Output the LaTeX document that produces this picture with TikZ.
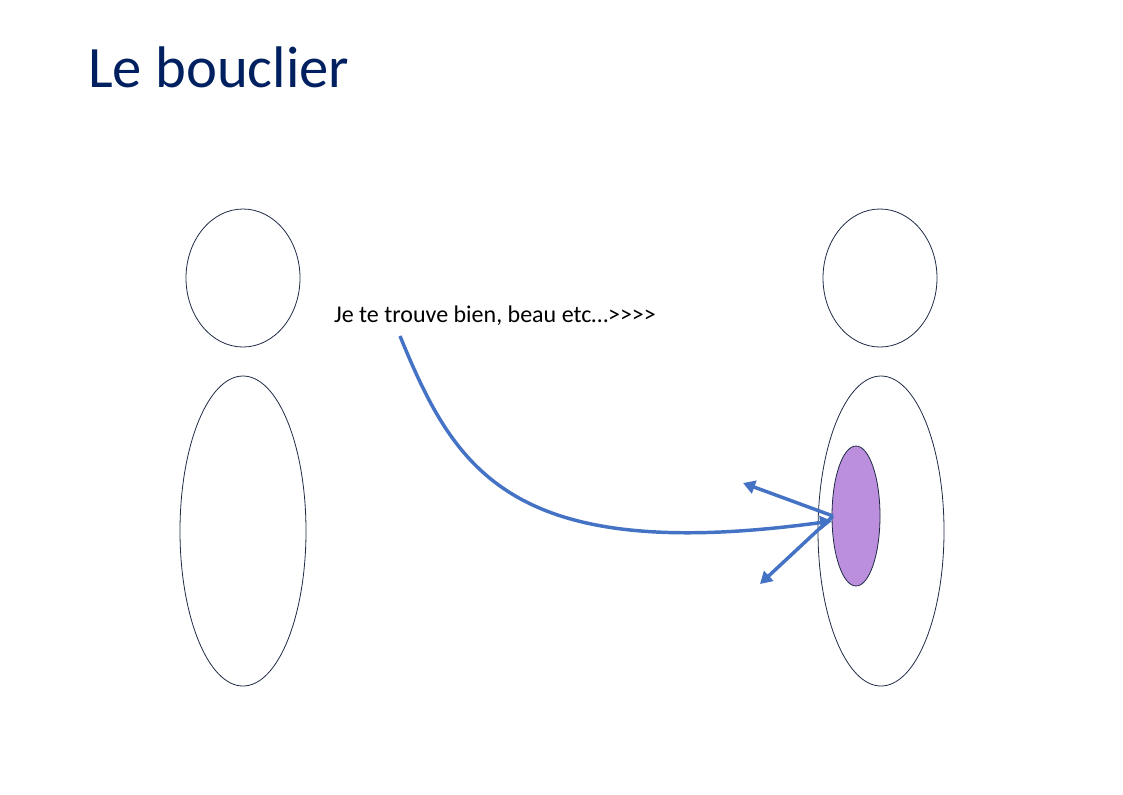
\documentclass[tikz,border=0pt]{standalone}
\usepackage{fontspec}
\setmainfont{Carlito}[Ligatures=TeXOff]
\usetikzlibrary{arrows.meta}
\definecolor{titleblue}{HTML}{002060}
\definecolor{arrowblue}{HTML}{4472C4}
\definecolor{lav}{HTML}{BB8FDD}
\definecolor{outline}{HTML}{1F2A44}
\begin{document}
\begin{tikzpicture}[x=0.75pt,y=-0.75pt,
  figure/.style={draw=outline,line width=0.6pt},
  ray/.style={draw=arrowblue,line width=2.6pt,-{Triangle[length=9pt,width=10pt]}},
  lbl/.style={font=\fontsize{18}{22}\selectfont,text=black,inner sep=0pt}]
\useasboundingbox (0,0) rectangle (1123,794);
\node[anchor=west,inner sep=0pt,text=titleblue,font=\fontsize{44}{52}\selectfont] (title) at (88,67) {Le bouclier};
% left person
\draw[figure] (243,278) ellipse [x radius=57, y radius=69];
\draw[figure] (243,531) ellipse [x radius=63, y radius=155];
% right person
\draw[figure] (880,278) ellipse [x radius=57, y radius=69];
\draw[figure] (881,531) ellipse [x radius=63, y radius=155];
\draw[figure,fill=lav] (856,516) ellipse [x radius=24, y radius=70];
\node[lbl] (msg) at (495,316) {Je te trouve bien, beau etc…>>>>};
\coordinate (s) at (400,336);
\coordinate (hit) at (832,521);
\coordinate (r) at (833,516);
\coordinate (up) at (743,483);
\coordinate (dn) at (760,584);
\draw[ray] (s) .. controls (455,470) and (510,565) .. (hit);
\draw[ray] (r) -- (up);
\draw[ray] (r) -- (dn);
\end{tikzpicture}
\end{document}
